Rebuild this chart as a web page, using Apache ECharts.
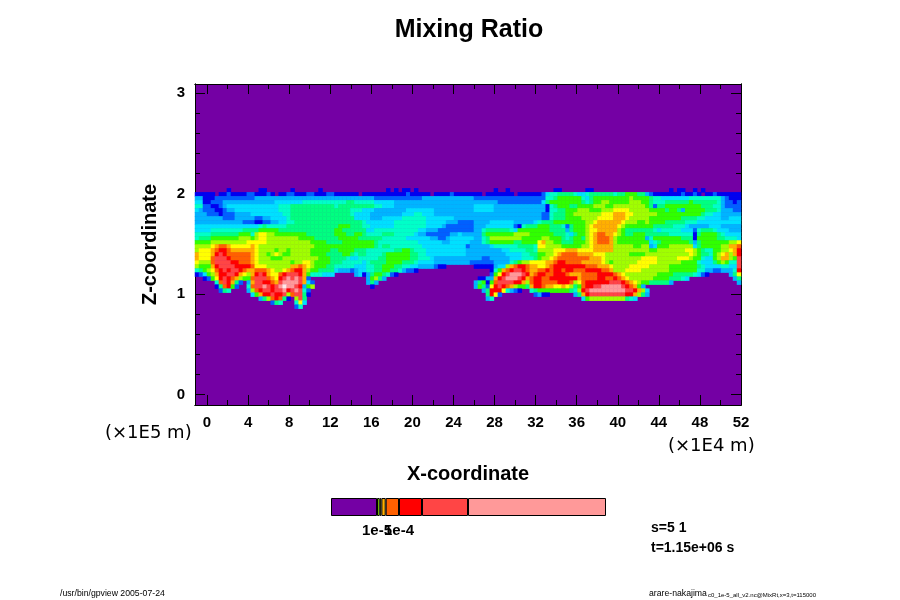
<!DOCTYPE html>
<html>
<head>
<meta charset="utf-8">
<style>html,body{margin:0;padding:0;background:#fff}#main{width:900px;height:600px}</style>
<script src="https://cdn.jsdelivr.net/npm/echarts@6/dist/echarts.min.js"></script>
</head>
<body>
<div id="main"></div>
<script>
// contour levels of the mixing ratio, lowest first
var levelColors = ['#7400a4', '#0000f0', '#0060ff', '#00b4ff', '#00e0ff', '#00ffc8', '#00ff80', '#30ff00',
    '#a0ff00', '#ffff00', '#ffb000', '#ff6000', '#ff0000', '#ff4545', '#ff9999', '#ffe8e8'];

// level per cell (hex digit), spaces only group digits.
// the band is cut in four blocks left to right, rows run top to bottom from bandTopRow
var bandTopRow = 26;
var blockWidths = [35, 35, 35, 32];
var fieldA = [
    '00000000100000001100000010000001000',
    '11111011211112211121011221112211122',
    '33 111 2222 22222233333333 333333333333',
    '44 112 2233 33333333333444 444455555555',
    '55 221 1234 44444444444455 566666666666',
    '43 222 1123 34444444444455 566666666666',
    '33322 2122 2333 3444444445 566666666666',
    '33333 3322 2333 3322334444 566666666666',
    '3333333333 3322 211 223 344 556666666666',
    '444444444 44444 4456 55555 666666666666',
    '444455555 55566 66777 7766 666666666666',
    '55556 66666 6777 5 8998 877777777 6666666',
    '5666 777777 7888 7 8998 888888877 7766666',
    '7777 888888 8889 9 9998 888888888 8777766',
    '8888 9 abb a9 9999 a9 8888 88888888 8877777',
    '8999 a bcc ba aaaa a9 8888 78878888 8777776',
    'a999 a cdc bb bbbb a9 8878 98778888 8777766',
    'a999 b ddd cb bbbb a9 8887 77888888 8887776',
    '9888 b ddd dc cbbb a9 8888 88887889 9877776',
    '8777 a cdd dd cccc b9 9988 8888 aaba 9877766',
    '5678 9 bcdc dd cba abbba 988 9abc ca 8776666',
    '1247 8 ac cdd c a 98 a cdc a 99 b cdddc a 7 555444',
    '0012 7 9 cdc b a8 77 b ddd ba 9 c dede d a 2 000000',
    '00000 5 bdc a 6 20 3 a dd ccb a d eeee d a 4 2 00000',
    '00000 1 6 bc 7 200 5 b dde dc de fe ed c 3 7 8 00000',
    '000000 2 6 5 0000 3 8 bc dd cdd e c de d 5 2 000000',
    '00000000000000 4 7 acc dcc d 8 b dd 6 1 000000',
    '0000000000000000 3 6 8 bc b 6 1 0 8 d 6 0000000',
    '0000000000000000000 2 6 5 000 5 9 4 0000000',
    '0000000000000000000000000 25 00000000'
];
var fieldB = [
    '00000000000001010110100000000000000',
    '11111101111111111121111101111211111',
    '333333 3333222 2222222 223333333333333',
    '55566 55555 44444 33333 333333333333333',
    '56666666 6655 44 433333333333333333333',
    '6666 555 444 3333333344444443333333333',
    '66 665 4444 33333333 44455444 3333333333',
    '666 664 4443 3344444 555555 444444433333',
    '6666666 54 44444 45555555 544444 3332222',
    '6777666 55 44444 4555555 554444 32222222',
    '7766666 644 55555 555555 4433 3222222222',
    '77766776 555 566655555 43322 222 2334333',
    '67777766 666 655555 5444444 3322 3444444',
    '667777777 7655555 55555 44444433444443',
    '777777777 76566 5555555 54444444444423',
    '677776 6655 55555 6677 6555 444444444433',
    '6677 65665 555 6777777 6655 444444444433',
    '6665 44555 5566 777777 6655 543333333333',
    '66555 5545 6666 77776 665 4444 3333333332',
    '55555 444 556 67776 6554 43333 211 0000000',
    '43332 34 455 66 77 665 322 1 00000000000000',
    '00000 34 1 3 677 65 2 1 0000000000000000000',
    '00000000 3 78 6 3 0000000000000000000000',
    '00000000 363 000000000000000000000000',
    '000000000 1 0000000000000000000000000',
    '00000000000000000000000000000000000',
    '00000000000000000000000000000000000',
    '00000000000000000000000000000000000',
    '00000000000000000000000000000000000',
    '00000000000000000000000000000000000'
];
var fieldC = [
    '00000100100000000000110000001100000',
    '11011111110111111 245 56666 544 5666666',
    '22222222222222222 25 56777777 54 677777',
    '33333322222222222 46 77777777 65 677887',
    '44444 333333333333 31 56 77766777 788877',
    '44444 333333333333 31 55667 77888 777888',
    '33333333333333333 22 566677 8888 888999',
    '33333333333333333 22 566677 7788 889999',
    '3333444444 33333 4566 677777 7778 89aaaa',
    '3334444444 21 5666777 6665 2 67778 9aaaaa',
    '33 566 6666 54 77777777 6666 3 6777 899 aaaa',
    '33 677 7777 78 88877777 7666 5 4677 89a bbaa',
    '335 6888888 88777 7788 777 65 6776 89 abbb a',
    '3356 777777 6677 77 9a 88 77 666777 89 abbb a',
    '33334 555555 666 65 9988 88 77777 88 9aa aaa',
    '333333 344 5555 665 888 899 9aaa 9999a aaaa',
    '33333333 4444 55667 788 9abbb baaa a999 88',
    '3322333 3344 4555 678 89a bbbbb bbbaa a988',
    '22222 3333 56 788 9999 aa bcc bbb baaaaa 987',
    '11111 344 8ab ccb aa 99 ab ccccc cccb bbaaa9',
    '0000 1 57 ab cddc ba ab bc bcc bccb bbccc cbba',
    '0000 2 79 cd eeed ca bc cbbc cc baa abbbb cccc',
    '01 13 3 ac deee dc a bcc bbc ccccc c a bbbb ccbb',
    '3 67 1 7 b dddd cc a8 bcc bbb bcccb 8 9 bccc cccd',
    '3 76 2 9 cdc ba 877 6 acc baa 99a98 6 7 bcc ddeee',
    '00 3 6 ccc 9 53 2100 567 7777777 6 5 8 cde eeeee',
    '000 6 c 9 2 00000000 231 1000000 3 6 ac dddddd',
    '000 35 0000000000000000000000 4 7 88888888',
    '00000000000000000000000000000000000',
    '00000000000000000000000000000000000'
];
var fieldD = [
    '00000000000000101100101000000000',
    '56677766 321111 11121121011211 1111',
    '77778777 765544 444445 5555555 32111',
    '77778887 765556 666667 6666665 32212',
    '88888888 76 2 667 777777 7766655 32222',
    '99998888 877776 776377 7776665 33322',
    'aaa99888 888777 777777 7765544 33333',
    'aaa98888 877777 777666 6554444 33444',
    'aa988877 877776 666655 5444444 44444',
    'a9877777 776666 655543 3333444 33333',
    'a8766666 665455 555444 2 566654 44333',
    '98766777 666666 555555 1 677776 54444',
    '87777777 3 5 7777 777666 1 777776 65554',
    '87777777 745677 777776 3 677777 77889',
    '88888778 834777 888888 4 677777 88aab',
    '88888888 877888 888899 8765577 889ac',
    '88887777888888 888889 8766578 9a8ac',
    '88888889999888 889998 7754478 aa87d',
    '88888899999888 888777 7544467 8755d',
    '88889999988888 777777 7654444 5544d',
    '88899998888888 777777 7553322 3335c',
    'ba988888888777 766666 5421000 00369',
    'cba98888887777 66654 00000000000 36',
    'dd cb a9 87 766666 3 0000000000000000 3',
    'ee dc ba 7 3 000000000000000000000000',
    'eee dd ca 8 4 00000000000000000000000',
    'ddd cc a8 6 3 00000000000000000000000',
    '8886 54 000000000000000000000000000',
    '00000000000000000000000000000000',
    '00000000000000000000000000000000'
];

var xTickLabels = [0, 4, 8, 12, 16, 20, 24, 28, 32, 36, 40, 44, 48, 52];
var xMinorTicks = [2, 6, 10, 14, 18, 22, 26, 30, 34, 38, 42, 46, 50];
var yTickLabels = [0, 1, 2, 3];
var yMinorTicks = [0.2, 0.4, 0.6, 0.8, 1.2, 1.4, 1.6, 1.8, 2.2, 2.4, 2.6, 2.8];

var colorbarSpans = [46, 2.7, 1.7, 4.3, 13.3, 23, 46, 138];
var colorbarColors = ['#7400a4', '#a0ff00', '#ffff00', '#ffb000', '#ff6000', '#ff0000', '#ff4545', '#ff9999'];
var colorbarTicks = [46, 48.7, 54.7, 68];
var colorbarLabels = ['1e-5', '2e-5', '5e-5', '1e-4'];

var nCols = 137, nRows = 80;
var xCats = [], yCats = [], cells = [];
for (var i = 0; i < nCols; i++) xCats.push(i);
for (var j = 0; j < nRows; j++) yCats.push(j);
[fieldA, fieldB, fieldC, fieldD].forEach(function (block, b) {
    var colStart = 0;
    for (var p = 0; p < b; p++) colStart += blockWidths[p];
    block.forEach(function (row, k) {
        var line = row.replace(/ /g, '');
        for (var c = 0; c < blockWidths[b] && c < line.length; c++) {
            var lv = parseInt(line.charAt(c), 16);
            if (lv > 0) cells.push([colStart + c, bandTopRow + k, lv]);
        }
    });
});

var ff = '"Liberation Sans", Arial, sans-serif';
var xRange = {min: -1.17, max: 52};
var yRange = {min: -0.105, max: 3.09};

function frameAxis(range, position, ticks, tickLen, labelled) {
    var axis = {
        type: 'value', gridIndex: 0, position: position, min: range.min, max: range.max,
        splitLine: {show: false},
        axisLine: {show: true, onZero: false, lineStyle: {color: '#000', width: 1}},
        axisTick: {show: true, inside: true, length: tickLen, customValues: ticks, lineStyle: {color: '#000', width: 1}},
        axisLabel: {show: false}
    };
    if (labelled) {
        axis.axisLabel = {show: true, customValues: ticks, showMinLabel: true, showMaxLabel: true,
            color: '#000', fontFamily: ff, fontWeight: 'bold', fontSize: 15, margin: 10};
    }
    return axis;
}

var xBottom = frameAxis(xRange, 'bottom', xTickLabels, 10, true);
xBottom.name = 'X-coordinate';
xBottom.nameLocation = 'middle';
xBottom.nameGap = 59;
xBottom.nameTextStyle = {color: '#000', fontFamily: ff, fontWeight: 'bold', fontSize: 20};
var yLeft = frameAxis(yRange, 'left', yTickLabels, 10, true);
yLeft.name = 'Z-coordinate';
yLeft.nameLocation = 'middle';
yLeft.nameGap = 35;
yLeft.nameTextStyle = {color: '#000', fontFamily: ff, fontWeight: 'bold', fontSize: 20};

var colorbarSeries = colorbarSpans.map(function (span, idx) {
    return {
        type: 'bar', xAxisIndex: 5, yAxisIndex: 5, stack: 'bar', barWidth: '100%', silent: true,
        data: [span],
        itemStyle: {color: colorbarColors[idx], borderColor: '#000', borderWidth: 1}
    };
});

function note(text, x, y, size, bold, family) {
    return {
        type: 'text', x: x, y: y, silent: true,
        style: {text: text, fill: '#000', font: (bold ? 'bold ' : '') + size + 'px ' + (family || ff), textVerticalAlign: 'middle'}
    };
}

var chart = echarts.init(document.getElementById('main'));
chart.setOption({
    animation: false,
    backgroundColor: '#fff',
    title: {
        text: 'Mixing Ratio', left: 464, top: 13, textAlign: 'center',
        textStyle: {color: '#000', fontFamily: ff, fontWeight: 'bold', fontSize: 25}
    },
    grid: [
        {left: 195, top: 84, width: 546, height: 321, show: true, backgroundColor: levelColors[0], borderWidth: 0},
        {left: 331, top: 498, width: 275, height: 18}
    ],
    xAxis: [
        {type: 'category', gridIndex: 0, show: false, data: xCats},
        xBottom,
        frameAxis(xRange, 'top', xTickLabels, 10, false),
        frameAxis(xRange, 'bottom', xMinorTicks, 5, false),
        frameAxis(xRange, 'top', xMinorTicks, 5, false),
        {
            type: 'value', gridIndex: 1, min: 0, max: 275, splitLine: {show: false},
            axisLine: {show: false}, axisTick: {show: false},
            axisLabel: {
                customValues: colorbarTicks, showMinLabel: true, showMaxLabel: true, margin: 7,
                color: '#000', fontFamily: ff, fontWeight: 'bold', fontSize: 15,
                formatter: function (v) { return colorbarLabels[colorbarTicks.indexOf(v)]; }
            }
        }
    ],
    yAxis: [
        {type: 'category', gridIndex: 0, show: false, inverse: true, data: yCats},
        yLeft,
        frameAxis(yRange, 'right', yTickLabels, 10, false),
        frameAxis(yRange, 'left', yMinorTicks, 5, false),
        frameAxis(yRange, 'right', yMinorTicks, 5, false),
        {type: 'category', gridIndex: 1, data: ['bar'], show: false}
    ],
    visualMap: {
        type: 'piecewise', show: false, seriesIndex: 0, dimension: 2,
        pieces: levelColors.map(function (color, lv) { return {value: lv, color: color}; })
    },
    series: [{
        type: 'heatmap', xAxisIndex: 0, yAxisIndex: 0, data: cells, progressive: 0, silent: true,
        emphasis: {disabled: true}
    }].concat(colorbarSeries),
    graphic: [
        note('(×1E5 m)', 105, 433, 18, false, '"DejaVu Sans", sans-serif'),
        note('(×1E4 m)', 668, 446, 18, false, '"DejaVu Sans", sans-serif'),
        note('s=5 1', 651, 528, 14, true),
        note('t=1.15e+06 s', 651, 548, 14, true),
        note('/usr/bin/gpview 2005-07-24', 60, 594, 8.7, false),
        note('arare-nakajima', 649, 594, 8.7, false),
        note('c0_1e-5_all_v2.nc@MixRt,x=3,t=115000', 708, 595, 6, false)
    ]
});
</script>
</body>
</html>
